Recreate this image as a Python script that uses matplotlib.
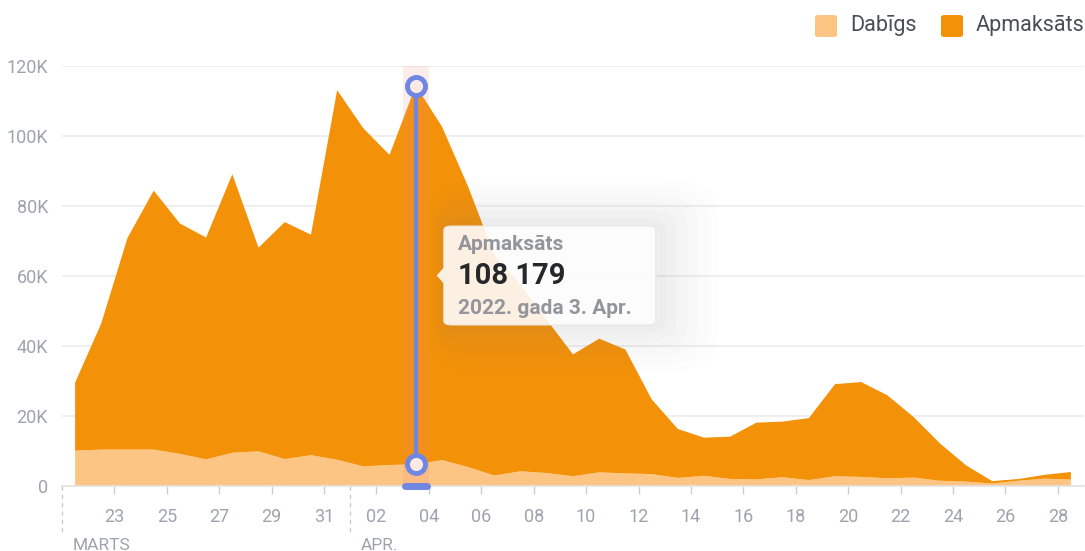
import matplotlib
matplotlib.use('Agg')
import matplotlib.pyplot as plt
import matplotlib.dates as mdates
from matplotlib.patches import FancyBboxPatch, Polygon
from matplotlib.ticker import FuncFormatter
import pandas as pd

plt.rcParams['font.family'] = ['Roboto', 'DejaVu Sans']

# daily values, 21 Mar - 28 Apr 2022 (thousands)
dabigs = [10.1, 10.4, 10.4, 10.4, 9.2, 7.6, 9.5, 9.9, 7.7, 8.8,
          7.5, 5.6, 6.0, 6.2, 7.4, 5.4, 3.0, 4.2, 3.7, 2.8,
          3.9, 3.6, 3.4, 2.3, 2.9, 2.0, 1.9, 2.5, 1.7, 2.8,
          2.6, 2.2, 2.4, 1.5, 1.25, 0.7, 1.5, 2.1, 1.85]
apmaksats = [19.4, 36.1, 60.5, 74.0, 65.8, 63.4, 79.6, 58.2, 67.7, 63.0,
             105.6, 96.6, 88.6, 108.179, 95.3, 80.1, 63.0, 53.3, 43.8, 34.8,
             38.2, 35.4, 21.4, 14.0, 10.9, 12.1, 16.2, 15.9, 17.7, 26.3,
             27.1, 23.7, 17.3, 10.7, 4.65, 0.7, 0.5, 1.1, 2.15]
dabigs = [v * 1000 for v in dabigs]
apmaksats = [v * 1000 for v in apmaksats]

dates = pd.date_range('2022-03-21 12:00', periods=len(dabigs), freq='D')
tick_dates = pd.date_range('2022-03-23', '2022-04-28', freq='2D')
month_starts = [pd.Timestamp('2022-03-21'), pd.Timestamp('2022-04-01')]
month_names = ['MARTS', 'APR.']
series_names = ['Dabīgs', 'Apmaksāts']
hover_idx = 13
tooltip_lines = ['Apmaksāts', '108 179', '2022. gada 3. Apr.']

LIGHT = '#fdc584'
DARK = '#f39208'
GRID = '#ececec'
LABEL = '#9ea3ad'
BLUE = '#6f86e2'

W, H = 1085, 551
fig = plt.figure(figsize=(W / 100, H / 100), dpi=100)
ax = fig.add_axes([62 / W, 65 / H, 1022 / W, 420 / H])

ax.stackplot(dates, dabigs, apmaksats, colors=[LIGHT, DARK], linewidth=0, zorder=2)

ax.set_xlim(pd.Timestamp('2022-03-21'), pd.Timestamp('2022-04-29'))
ax.set_ylim(0, 120000)
ax.set_yticks(range(0, 120001, 20000))
ax.yaxis.set_major_formatter(FuncFormatter(lambda v, p: '0' if v == 0 else f'{int(v / 1000)}K'))
ax.grid(axis='y', color=GRID, linewidth=1.2, zorder=0)
ax.set_axisbelow(True)
for s in ['top', 'right', 'left']:
    ax.spines[s].set_visible(False)
ax.spines['bottom'].set_color('#e3e3e3')
ax.spines['bottom'].set_linewidth(1.2)
ax.tick_params(axis='y', length=0, pad=10, labelsize=13, labelcolor=LABEL)
ax.set_xticks(tick_dates)
ax.xaxis.set_major_formatter(mdates.DateFormatter('%d'))
ax.tick_params(axis='x', length=6, width=1, color='#c9ccd2', pad=10, labelsize=13, labelcolor=LABEL)

# month separators
trans = ax.get_xaxis_transform()
for d, name in zip(month_starts, month_names):
    ax.plot([d, d], [0, -0.12], transform=trans, color='#c9ccd2', linewidth=1,
            linestyle=(0, (3, 3)), clip_on=False)
    ax.annotate(name, (mdates.date2num(d), -0.12), xycoords=trans, xytext=(7.5, -1),
                textcoords='offset points', ha='left', va='top', fontsize=12.5, color=LABEL)

# hover highlight
hd = dates[hover_idx]
ax.axvspan(hd - pd.Timedelta(hours=12), hd + pd.Timedelta(hours=12), color='#f08a80', alpha=0.16,
           linewidth=0, zorder=3)
total = dabigs[hover_idx] + apmaksats[hover_idx]
ax.plot([hd, hd], [dabigs[hover_idx], total], color=BLUE, linewidth=3, zorder=5)
ax.plot([hd, hd], [dabigs[hover_idx], total], linestyle='none', marker='o', markersize=13,
        markerfacecolor='#fbe9e6', markeredgecolor=BLUE, markeredgewidth=3.5, zorder=6)
ax.plot([hd - pd.Timedelta(hours=10), hd + pd.Timedelta(hours=10)], [0, 0], color=BLUE,
        linewidth=5, solid_capstyle='round', zorder=6, clip_on=False)

# tooltip
px, _ = ax.transData.transform((mdates.date2num(hd), 0))
bx, by, bw, bh = (px + 28) / W, 226 / H, 212 / W, 99 / H
for i, a in enumerate([0.012, 0.016, 0.02, 0.025, 0.03, 0.035]):
    pad = (6 - i) * 8
    fig.patches.append(FancyBboxPatch((bx - pad * 0.3 / W, by - pad / H), bw + pad * 1.6 / W, bh + 2 * pad / H,
                                      boxstyle=f'round,pad=0,rounding_size={(18 + pad) / W}',
                                      transform=fig.transFigure, facecolor='#8a8a8a', alpha=a,
                                      edgecolor='none', zorder=7))
fig.patches.append(FancyBboxPatch((bx, by), bw, bh, boxstyle=f'round,pad=0,rounding_size={8 / W}',
                                  transform=fig.transFigure, facecolor='white', alpha=0.88,
                                  edgecolor='#e6e6e6', linewidth=0.8, zorder=8))
fig.patches.append(Polygon([(bx, by + bh / 2 + 8 / H), (bx - 7 / W, by + bh / 2), (bx, by + bh / 2 - 8 / H)],
                           closed=True, transform=fig.transFigure, facecolor='white', alpha=0.88,
                           edgecolor='none', zorder=8))
tx = bx + 14 / W
fig.text(tx, (H - 245) / H, tooltip_lines[0], fontsize=15, fontweight='bold', color='#94949c',
         va='center', ha='left', zorder=9)
fig.text(tx, (H - 276) / H, tooltip_lines[1], fontsize=21, fontweight='bold', color='#26272b',
         va='center', ha='left', zorder=9)
fig.text(tx, (H - 308) / H, tooltip_lines[2], fontsize=15, fontweight='bold', color='#94949c',
         va='center', ha='left', zorder=9)

# legend (rounded swatches)
for name, col, sx in zip(series_names, [LIGHT, DARK], [815, 941]):
    fig.patches.append(FancyBboxPatch((sx / W, (H - 37) / H), 22 / W, 22 / H,
                                      boxstyle=f'round,pad=0,rounding_size={4 / W}',
                                      transform=fig.transFigure, facecolor=col, edgecolor='none'))
    fig.text((sx + 35) / W, (H - 26) / H, name, fontsize=15.5, color='#4b4d57', va='center', ha='left')

fig.savefig('out.png', dpi=100, facecolor='white')
